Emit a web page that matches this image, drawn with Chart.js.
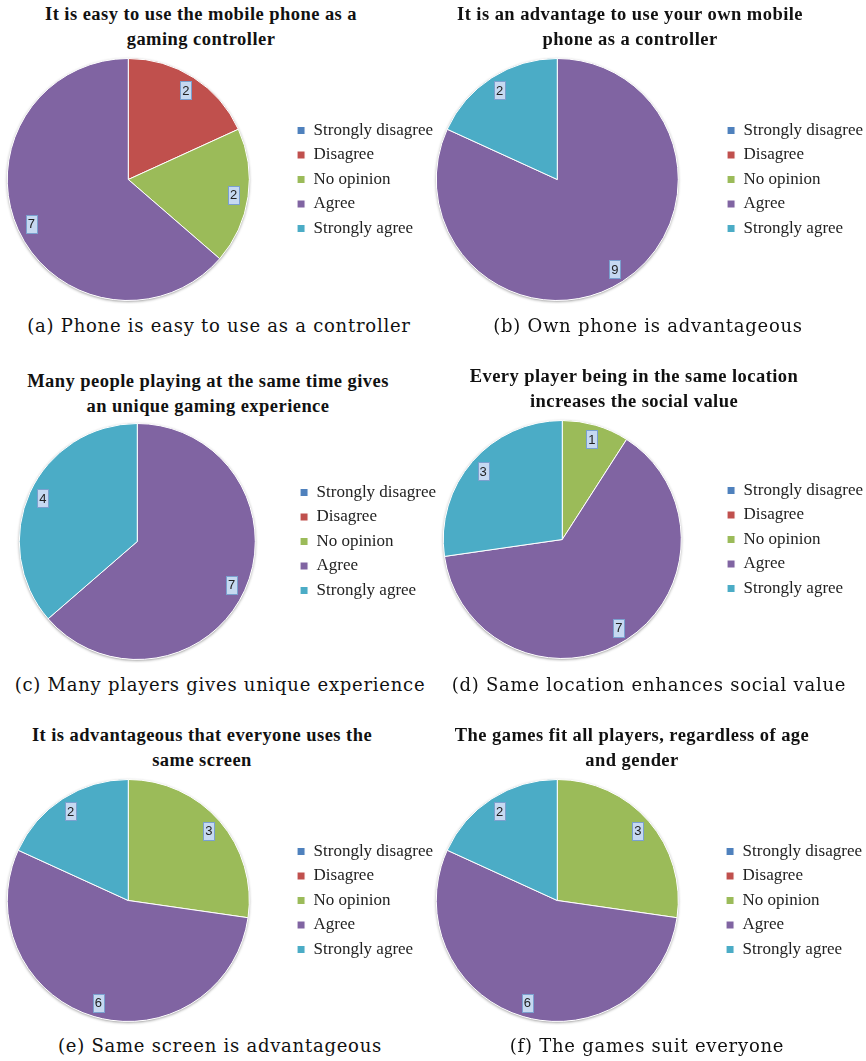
<!DOCTYPE html>
<html>
<head>
<meta charset="utf-8">
<script src="https://cdn.jsdelivr.net/npm/chart.js@4.4.1/dist/chart.umd.min.js"></script>
<style>
  html, body { margin: 0; padding: 0; background: #fff; }
  body { position: relative; width: 866px; height: 1061px; overflow: hidden; }
  canvas { position: absolute; }
  .title {
    position: absolute; width: 440px; text-align: center; white-space: nowrap;
    font: bold 18.5px "Liberation Serif", serif; letter-spacing: 0.45px;
    line-height: 25px; color: #111;
  }
  .caption {
    position: absolute; width: 460px; text-align: center; white-space: nowrap;
    font: 18px "DejaVu Serif", serif; letter-spacing: 0.75px;
    line-height: 20px; color: #111;
  }
</style>
</head>
<body>
<script>
// survey answers, one array per question
const categories = ['Strongly disagree', 'Disagree', 'No opinion', 'Agree', 'Strongly agree'];
const easyToUse = [0, 2, 2, 7, 0];
const ownPhone = [0, 0, 0, 9, 2];
const manyPlayers = [0, 0, 0, 7, 4];
const sameLocation = [0, 0, 1, 7, 3];
const sameScreen = [0, 0, 3, 6, 2];
const suitEveryone = [0, 0, 3, 6, 2];

const titles = [
  ['It is easy to use the mobile phone as a', 'gaming controller'],
  ['It is an advantage to use your own mobile', 'phone as a controller'],
  ['Many people playing at the same time gives', 'an unique gaming experience'],
  ['Every player being in the same location', 'increases the social value'],
  ['It is advantageous that everyone uses the', 'same screen'],
  ['The games fit all players, regardless of age', 'and gender']
];
const captions = [
  '(a) Phone is easy to use as a controller',
  '(b) Own phone is advantageous',
  '(c) Many players gives unique experience',
  '(d) Same location enhances social value',
  '(e) Same screen is advantageous',
  '(f) The games suit everyone'
];
const seriesList = [easyToUse, ownPhone, manyPlayers, sameLocation, sameScreen, suitEveryone];

const colors = ['#4f81bd', '#c0504d', '#9bbb59', '#8064a2', '#4bacc6'];

// where each panel sits on the page
const panels = [
  { cx: 128, cy: 179, r: 121, legendX: 313, titleX: 201, titleY: 14, capX: 219, capY: 326 },
  { cx: 557, cy: 179, r: 121, legendX: 743, titleX: 630, titleY: 14, capX: 648, capY: 326 },
  { cx: 137, cy: 541, r: 118, legendX: 316, titleX: 208, titleY: 381, capX: 220, capY: 685 },
  { cx: 562, cy: 539, r: 119, legendX: 743, titleX: 634, titleY: 376, capX: 649, capY: 685 },
  { cx: 128, cy: 900, r: 121, legendX: 313, titleX: 202, titleY: 735, capX: 220, capY: 1046 },
  { cx: 557, cy: 900, r: 121, legendX: 742, titleX: 632, titleY: 735, capX: 647, capY: 1046 }
];

const LEGEND_FONT = 17;
const LEGEND_PAD = 7.5;
const LEGEND_BOX = 8;

// boxed value labels near the rim of each slice
const sliceLabels = {
  id: 'sliceLabels',
  afterDatasetsDraw(chart) {
    const ctx = chart.ctx;
    const meta = chart.getDatasetMeta(0);
    const data = chart.data.datasets[0].data;
    ctx.save();
    ctx.font = '13px "Liberation Sans", sans-serif';
    ctx.textAlign = 'center';
    ctx.textBaseline = 'middle';
    meta.data.forEach((arc, i) => {
      if (!data[i]) return;
      const p = arc.getProps(['x', 'y', 'startAngle', 'endAngle', 'outerRadius'], true);
      const mid = (p.startAngle + p.endAngle) / 2;
      const px = p.x + Math.cos(mid) * p.outerRadius * 0.88;
      const py = p.y + Math.sin(mid) * p.outerRadius * 0.88;
      const txt = String(data[i]);
      const w = Math.round(ctx.measureText(txt).width + 4);
      const h = 18;
      const bx = Math.round(px - w / 2) + 0.5;
      const by = Math.round(py - h / 2) + 0.5;
      ctx.fillStyle = '#c6d9f1';
      ctx.strokeStyle = '#7aa0cf';
      ctx.lineWidth = 1;
      ctx.fillRect(bx, by, w, h);
      ctx.strokeRect(bx, by, w, h);
      ctx.fillStyle = '#222';
      ctx.fillText(txt, px, py + 1);
    });
    ctx.restore();
  }
};

// soft grey rim under the pie
const pieShadow = {
  id: 'pieShadow',
  beforeDatasetsDraw(chart) {
    const arc = chart.getDatasetMeta(0).data[0];
    if (!arc) return;
    const ctx = chart.ctx;
    ctx.save();
    ctx.beginPath();
    ctx.arc(arc.x, arc.y, arc.outerRadius, 0, Math.PI * 2);
    ctx.shadowColor = 'rgba(0,0,0,0.45)';
    ctx.shadowBlur = 3;
    ctx.shadowOffsetY = 1;
    ctx.fillStyle = '#fff';
    ctx.fill();
    ctx.restore();
  }
};

function addText(cls, html, left, top) {
  const div = document.createElement('div');
  div.className = cls;
  div.innerHTML = html;
  div.style.left = left + 'px';
  div.style.top = top + 'px';
  document.body.appendChild(div);
}

function makeConfig(values) {
  return {
    type: 'pie',
    data: {
      labels: categories,
      datasets: [{
        data: values,
        backgroundColor: colors,
        borderColor: '#ffffff',
        borderWidth: 1
      }]
    },
    options: {
      responsive: false,
      animation: false,
      events: [],
      layout: { padding: { top: 3, bottom: 3, left: 0, right: 4 } },
      plugins: {
        title: { display: false },
        tooltip: { enabled: false },
        legend: {
          position: 'right',
          labels: {
            boxWidth: LEGEND_BOX,
            boxHeight: LEGEND_BOX,
            padding: LEGEND_PAD,
            color: '#222',
            font: { family: '"Liberation Serif", serif', size: LEGEND_FONT }
          }
        }
      }
    },
    plugins: [pieShadow, sliceLabels]
  };
}

function sizeCanvas(canvas, w, h) {
  canvas.style.width = w + 'px';
  canvas.style.height = h + 'px';
  canvas.width = w;
  canvas.height = h;
}

panels.forEach((pl, i) => {
  // legend sits right of the chart area; pie is centred in that area
  const legendLeft = pl.legendX - (LEGEND_PAD + LEGEND_BOX + LEGEND_FONT / 2);
  const areaLeft = 2 * pl.cx - legendLeft;
  const height = 2 * pl.r + 1 + 6;

  const canvas = document.createElement('canvas');
  canvas.style.left = areaLeft + 'px';
  canvas.style.top = (pl.cy - pl.r - 3.5) + 'px';
  document.body.appendChild(canvas);

  // first pass only measures the legend box
  sizeCanvas(canvas, 700, height);
  let chart = new Chart(canvas.getContext('2d'), makeConfig(seriesList[i]));
  const legendW = chart.legend.width;
  chart.destroy();

  sizeCanvas(canvas, Math.ceil(legendLeft - areaLeft + legendW + 4), height);
  new Chart(canvas.getContext('2d'), makeConfig(seriesList[i]));

  addText('title', titles[i].join('<br>'), pl.titleX - 220, pl.titleY - 12.5);
  addText('caption', captions[i], pl.capX - 230, pl.capY - 10);
});
</script>
</body>
</html>
